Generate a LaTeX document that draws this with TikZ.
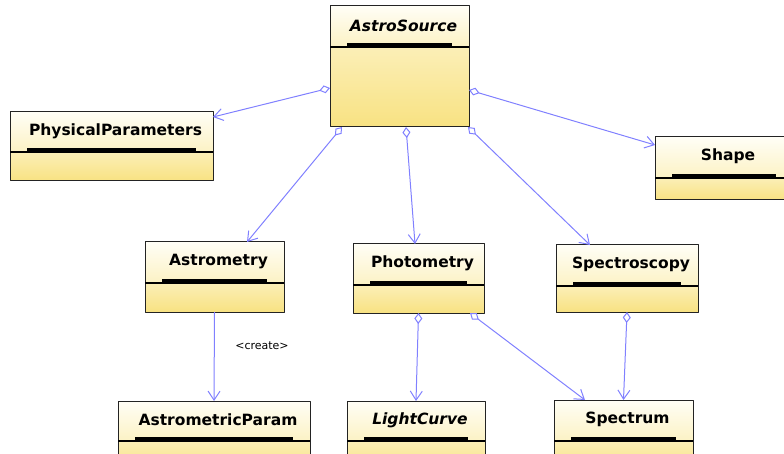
\documentclass[tikz,border=0pt]{standalone}
\usepackage{fontspec}
\setmainfont{DejaVu Sans}
\usetikzlibrary{arrows.meta,fit}
\definecolor{umlline}{RGB}{128,128,255}
\definecolor{boxtop}{RGB}{255,254,246}
\definecolor{boxmid}{RGB}{252,242,196}
\definecolor{boxlow}{RGB}{248,226,130}
\definecolor{boxedge}{RGB}{35,35,35}
% name, x1, y1, x2, y of divider, y2, title
\newcommand{\umlclass}[7]{%
  \shade[top color=boxtop, bottom color=boxmid] (#2,#3) rectangle (#4,#5);
  \shade[top color=boxmid!80!boxlow, bottom color=boxlow] (#2,#5) rectangle (#4,#6);
  \node[classtitle] (#1-t) at ({(#2+#4)/2+4},{(#3+#5)/2-1}) {#7};
  \draw[line width=3.5pt] (#2+17,#5-2) -- (#4-17,#5-2);
  \draw[boxedge, line width=1pt] (#2,#3) rectangle (#4,#6);
  \draw[line width=1.2pt] (#2,#5) -- (#4,#5);
  \node[fit={(#2,#3) (#4,#6)}, inner sep=0pt, outer sep=0pt] (#1) {};
}
\begin{document}
\begin{tikzpicture}[x=1pt, y=-1pt, line join=round,
  classtitle/.style={font=\fontsize{15.5}{18}\selectfont\bfseries, inner sep=0pt},
  assoc/.style={umlline, line width=1pt, {Diamond[open,fill=white,length=11pt,width=8pt]}-{Straight Barb[length=9pt,width=12pt]}},
  create/.style={umlline, line width=1pt, -{Straight Barb[length=9pt,width=12pt]}}]
\useasboundingbox (0,0) rectangle (784,454);
\clip (0,0) rectangle (784,454);
\umlclass{src}{330}{6}{469}{47}{127}{\itshape AstroSource}
\umlclass{phys}{10}{112}{213}{152}{181}{PhysicalParameters}
\umlclass{shapecls}{655}{137}{793}{178}{200}{Shape}
\umlclass{astrom}{145}{242}{284}{283}{312}{Astrometry}
\umlclass{photo}{353}{244}{484}{285}{313}{Photometry}
\umlclass{spectro}{556}{245}{698}{286}{312}{Spectroscopy}
\umlclass{aparam}{118}{401}{310}{441}{470}{AstrometricParam}
\umlclass{lcurve}{347}{401}{485}{441}{470}{\itshape LightCurve}
\umlclass{spectrum}{554}{400}{693}{441}{470}{Spectrum}
\draw[assoc] ([yshift=-21.5pt]src.west) -- ([yshift=29.5pt]phys.east);
\draw[assoc] ([yshift=-23.5pt]src.east) -- ([yshift=23.5pt]shapecls.west);
\draw[assoc] ([xshift=-57.5pt]src.south) -- ([xshift=32.5pt]astrom.north);
\draw[assoc] ([xshift=6.5pt]src.south) -- ([xshift=-3.5pt]photo.north);
\draw[assoc] ([xshift=-1pt]src.south east) -- ([xshift=-37pt]spectro.north);
\draw[create] (astrom.south) -- (aparam.north);
\node[font=\fontsize{11}{13}\selectfont] (crlbl) at (262,346) {<create>};
\draw[assoc] (photo.south) -- (lcurve.north);
\draw[assoc] ([xshift=51.5pt]photo.south) -- ([xshift=-38.5pt]spectrum.north);
\draw[assoc] (spectro.south) -- (spectrum.north);
\end{tikzpicture}
\end{document}
